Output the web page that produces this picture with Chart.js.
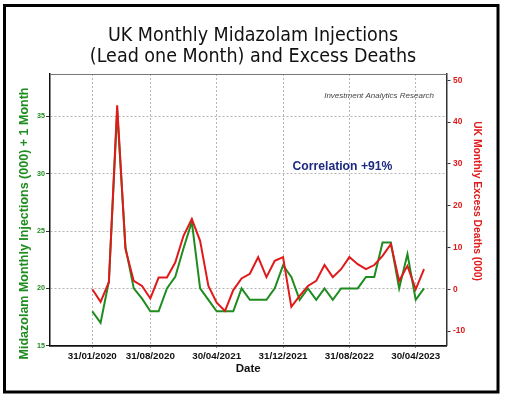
<!DOCTYPE html>
<html>
<head>
<meta charset="utf-8">
<script src="https://cdn.jsdelivr.net/npm/chart.js@4.4.1/dist/chart.umd.min.js"></script>
<style>
  html, body { margin: 0; padding: 0; background: #fff; }
</style>
</head>
<body>
<canvas id="chart" width="506" height="398"></canvas>
<script>
// x = months after 31/01/2020 (month-end values)
const tickMonths = [0, 7, 15, 23, 31, 39];
const tickLabels = ['31/01/2020', '31/08/2020', '30/04/2021', '31/12/2021', '31/08/2022', '30/04/2023'];

// midazolam injections (000), shifted one month
const injections = [18, 17, 20.6, 35.5, 23.6, 20, 19.1, 18, 18, 20, 21, 23.5,
  25.8, 20, 19, 18, 18, 18, 20, 19, 19, 19, 20, 22,
  21, 19, 20, 19, 20, 19, 20, 20, 20, 21, 21, 24,
  24, 20, 23, 19, 20];

// excess deaths (000)
const excessDeaths = [0, -3, 1.7, 44, 9.6, 2, 0.8, -2.2, 2.8, 2.8, 6.4, 12.8,
  16.8, 11.6, 0.8, -3.2, -5.2, -0.2, 2.6, 3.7, 7.7, 2.9, 6.8, 7.7,
  -4.2, -1.6, 0.8, 2, 5.8, 2.9, 4.8, 7.7, 6, 4.8, 5.8, 8,
  10.8, 2, 5.6, 0, 4.8];

const GREEN = '#1f8c1f';
const RED = '#e01a1a';
const SANS = "'Liberation Sans', Arial, sans-serif";

const decor = {
  id: 'decor',
  afterDraw(chart) {
    const ctx = chart.ctx;
    const a = chart.chartArea;
    ctx.save();
    // plot frame top
    ctx.strokeStyle = '#777';
    ctx.lineWidth = 1;
    ctx.beginPath();
    ctx.moveTo(a.left, a.top + 0.5);
    ctx.lineTo(a.right, a.top + 0.5);
    ctx.stroke();
    // outer frame
    ctx.strokeStyle = '#000';
    ctx.lineWidth = 3;
    ctx.strokeRect(4.5, 5.5, 493.5, 386.5);

    ctx.textBaseline = 'middle';
    ctx.fillStyle = '#444';
    ctx.font = 'italic 8px ' + SANS;
    ctx.textAlign = 'right';
    ctx.fillText('Investment Analytics Research', 434, 95.5);

    ctx.fillStyle = '#1c2a80';
    ctx.font = 'bold 12.2px ' + SANS;
    ctx.textAlign = 'left';
    ctx.fillText('Correlation +91%', 292.5, 166.5);

    // axis titles
    ctx.textAlign = 'center';
    ctx.save();
    ctx.translate(25, 223.5);
    ctx.rotate(-Math.PI / 2);
    ctx.fillStyle = GREEN;
    ctx.font = 'bold 12.5px ' + SANS;
    ctx.fillText('Midazolam Monthly Injections (000) + 1 Month', 0, 0);
    ctx.restore();

    ctx.save();
    ctx.translate(477, 201);
    ctx.rotate(Math.PI / 2);
    ctx.fillStyle = RED;
    ctx.font = 'bold 10.3px ' + SANS;
    ctx.fillText('UK Monthly Excess Deaths (000)', 0, 0);
    ctx.restore();
    ctx.restore();
  }
};

new Chart(document.getElementById('chart'), {
  type: 'line',
  data: {
    datasets: [
      {
        label: 'Excess Deaths',
        data: excessDeaths.map((v, i) => ({x: i, y: v})),
        yAxisID: 'yr',
        borderColor: RED,
        borderWidth: 2,
        pointRadius: 0,
        tension: 0,
        order: 1
      },
      {
        label: 'Midazolam Injections',
        data: injections.map((v, i) => ({x: i, y: v})),
        yAxisID: 'y',
        borderColor: GREEN,
        borderWidth: 2,
        pointRadius: 0,
        tension: 0,
        order: 2
      }
    ]
  },
  options: {
    responsive: false,
    animation: false,
    layout: {padding: 0},
    plugins: {
      legend: {display: false},
      tooltip: {enabled: false},
      title: {
        display: true,
        text: ['UK Monthly Midazolam Injections', '(Lead one Month) and Excess Deaths'],
        color: '#111',
        font: {family: "'DejaVu Sans Condensed', 'DejaVu Sans', sans-serif", size: 19.5, weight: 'normal', lineHeight: 1.092},
        padding: {top: 25.3, bottom: 6.1}
      }
    },
    scales: {
      x: {
        type: 'linear',
        min: -5.1,
        max: 42.71,
        afterBuildTicks: s => { s.ticks = tickMonths.map(v => ({value: v})); },
        afterFit: s => { s.height = 52.3; },
        ticks: {
          autoSkip: false,
          maxRotation: 0,
          padding: 3,
          color: '#111',
          font: {family: SANS, size: 9.8, weight: 'bold'},
          callback: v => tickLabels[tickMonths.indexOf(v)]
        },
        grid: {color: '#b5b5b5', tickColor: '#555', tickLength: 2},
        border: {color: '#111', width: 1.8, dash: [2, 2]},
        title: {
          display: true,
          text: 'Date',
          color: '#111',
          font: {family: SANS, size: 11.5, weight: 'bold', lineHeight: 1.2},
          padding: {top: 0, bottom: 22.1}
        }
      },
      y: {
        position: 'left',
        min: 15,
        max: 38.7,
        afterFit: s => { s.width = 50; },
        ticks: {
          stepSize: 5,
          includeBounds: false,
          padding: 1,
          color: GREEN,
          font: {family: SANS, size: 7.2, weight: 'bold'}
        },
        grid: {color: '#b5b5b5', tickColor: '#333', tickLength: 4},
        border: {color: '#111', width: 1.5, dash: [2, 2]}
      },
      yr: {
        position: 'right',
        min: -13.5,
        max: 51.5,
        afterFit: s => { s.width = 59.5; },
        ticks: {
          stepSize: 10,
          includeBounds: false,
          padding: 2.5,
          color: RED,
          font: {family: SANS, size: 8.4, weight: 'bold'}
        },
        grid: {drawOnChartArea: false, tickColor: '#333', tickLength: 4},
        border: {color: '#333', width: 1.5}
      }
    }
  },
  plugins: [decor]
});
</script>
</body>
</html>
